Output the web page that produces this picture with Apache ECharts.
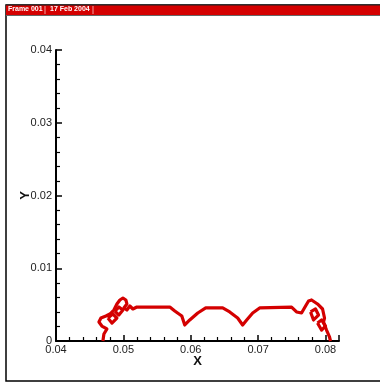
<!DOCTYPE html>
<html>
<head>
<meta charset="utf-8">
<script src="https://cdn.jsdelivr.net/npm/echarts@6/dist/echarts.min.js"></script>
<style>
  html, body { margin: 0; padding: 0; background: #fff; }
  #chart { width: 380px; height: 383px; }
</style>
</head>
<body>
<div id="chart"></div>
<script>
// contour line as [x, y]
const mainCurve = [
  [0.04696, 0], [0.04711, 0.00096], [0.04756, 0.00165], [0.04681, 0.00206],
  [0.04637, 0.00261], [0.04667, 0.00316], [0.04741, 0.00344], [0.04800, 0.00371],
  [0.04859, 0.00426], [0.04904, 0.00509], [0.04948, 0.00564], [0.04993, 0.00591],
  [0.05037, 0.00564], [0.05052, 0.00509], [0.05007, 0.00454], [0.05052, 0.00426],
  [0.05096, 0.00481], [0.05141, 0.00440], [0.05200, 0.00467], [0.05689, 0.00467],
  [0.05763, 0.00412], [0.05867, 0.00344], [0.05911, 0.00220], [0.05985, 0.00289],
  [0.06104, 0.00385], [0.06222, 0.00454], [0.06474, 0.00454], [0.06578, 0.00399],
  [0.06696, 0.00316], [0.06770, 0.00220], [0.06830, 0.00289], [0.06919, 0.00385],
  [0.07022, 0.00454], [0.07496, 0.00467], [0.07570, 0.00399], [0.07644, 0.00385],
  [0.07704, 0.00481], [0.07748, 0.00550], [0.07793, 0.00564], [0.07881, 0.00509],
  [0.07956, 0.00440], [0.07985, 0.00316], [0.07970, 0.00261], [0.08015, 0.00151],
  [0.08059, 0.00055], [0.08074, 0]
]
const leftLoopA = [[0.04770, 0.00316], [0.04844, 0.00371], [0.04904, 0.00316], [0.04830, 0.00247], [0.04770, 0.00316]]
const leftLoopB = [[0.04874, 0.00412], [0.04933, 0.00467], [0.04993, 0.00426], [0.04933, 0.00357], [0.04874, 0.00412]]
const rightLoopA = [[0.07778, 0.00399], [0.07852, 0.00440], [0.07896, 0.00357], [0.07822, 0.00289], [0.07778, 0.00399]]
const rightLoopB = [[0.07881, 0.00247], [0.07941, 0.00289], [0.08000, 0.00206], [0.07941, 0.00151], [0.07881, 0.00247]]

const headerTexts = ['Frame 001', '17 Feb 2004']

const chart = echarts.init(document.getElementById('chart'), null, { renderer: 'canvas' })

const lineColor = '#d40000'
const makeLine = (data) => ({
  type: 'line',
  data: data,
  showSymbol: false,
  silent: true,
  animation: false,
  lineStyle: { color: lineColor, width: 3.2, join: 'round' }
})

const tickFont = { fontFamily: 'Liberation Sans', fontSize: 11, color: '#222' }

const option = {
  animation: false,
  grid: { left: 56, right: 41, top: 50, bottom: 42, containLabel: false },
  xAxis: {
    type: 'value',
    min: 0.04,
    max: 0.082,
    interval: 0.01,
    name: 'X',
    nameLocation: 'middle',
    nameGap: 14,
    nameMoveOverlap: false,
    nameTextStyle: { fontFamily: 'Liberation Sans', fontSize: 13, fontWeight: 'bold', color: '#111' },
    axisLine: { lineStyle: { color: '#000', width: 2 } },
    axisTick: { inside: true, length: 6, lineStyle: { color: '#000', width: 1.5 } },
    minorTick: { show: true, splitNumber: 5, length: 4, lineStyle: { color: '#000', width: 1.2 } },
    splitLine: { show: false },
    axisLabel: Object.assign({ margin: 3, showMaxLabel: false, formatter: v => v.toFixed(2) }, tickFont)
  },
  yAxis: {
    type: 'value',
    min: 0,
    max: 0.04,
    interval: 0.01,
    name: 'Y',
    nameLocation: 'middle',
    nameGap: 24,
    nameMoveOverlap: false,
    nameTextStyle: { fontFamily: 'Liberation Sans', fontSize: 13, fontWeight: 'bold', color: '#111' },
    axisLine: { show: true, lineStyle: { color: '#000', width: 2 } },
    axisTick: { inside: true, length: 6, lineStyle: { color: '#000', width: 1.5 } },
    minorTick: { show: true, splitNumber: 5, length: 4, lineStyle: { color: '#000', width: 1.2 } },
    splitLine: { show: false },
    axisLabel: Object.assign({ margin: 4, formatter: v => (v === 0 ? '0' : v.toFixed(2)) }, tickFont)
  },
  graphic: [
    // outer frame
    { type: 'rect', shape: { x: 6, y: 5, width: 380, height: 376 },
      style: { fill: 'none', stroke: '#000', lineWidth: 1.5 }, silent: true },
    // header bar
    { type: 'rect', shape: { x: 6, y: 5, width: 380, height: 10 },
      style: { fill: '#d40000', stroke: null }, silent: true },
    { type: 'line', shape: { x1: 6, y1: 5, x2: 386, y2: 5 }, style: { stroke: '#222', lineWidth: 1 } },
    { type: 'line', shape: { x1: 6, y1: 15.5, x2: 386, y2: 15.5 }, style: { stroke: '#666', lineWidth: 1 } },
    { type: 'text', left: 8, top: 6,
      style: { text: headerTexts[0], fill: '#fff', font: 'bold 7px "Liberation Sans"' } },
    { type: 'line', shape: { x1: 45, y1: 6, x2: 45, y2: 14 }, style: { stroke: '#f2a0a0', lineWidth: 1 } },
    { type: 'text', left: 50, top: 6,
      style: { text: headerTexts[1], fill: '#fff', font: 'bold 7px "Liberation Sans"' } },
    { type: 'line', shape: { x1: 93, y1: 6, x2: 93, y2: 14 }, style: { stroke: '#f2a0a0', lineWidth: 1 } }
  ],
  series: [
    makeLine(mainCurve),
    makeLine(leftLoopA),
    makeLine(leftLoopB),
    makeLine(rightLoopA),
    makeLine(rightLoopB)
  ]
}

chart.setOption(option)
</script>
</body>
</html>
